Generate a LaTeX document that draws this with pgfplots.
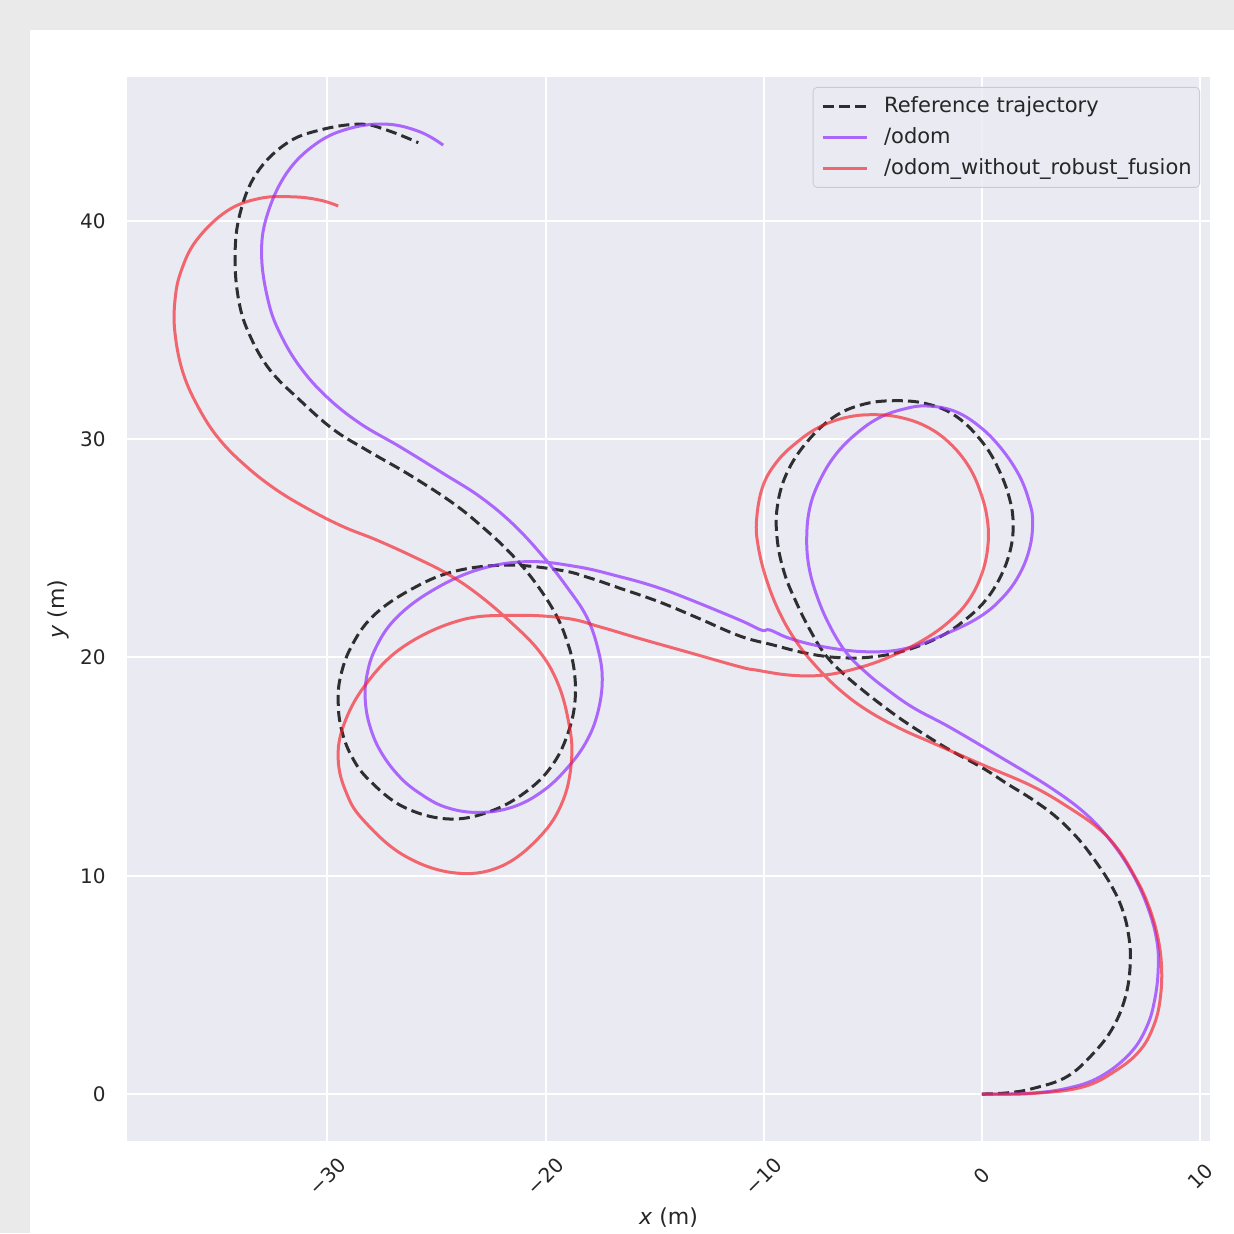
\documentclass[border=0pt]{standalone}
\usepackage{pgfplots}
\pgfplotsset{compat=1.18}
\usepackage{fontspec}
\setmainfont{DejaVu Sans}
\definecolor{bgout}{HTML}{EAEAEA}
\definecolor{axbg}{HTML}{EAEAF2}
\definecolor{txt}{HTML}{262626}
\definecolor{odomc}{RGB}{150,60,255}
\definecolor{redc}{RGB}{245,30,40}
\definecolor{legedge}{HTML}{CCCCCC}

\begin{document}
\begin{tikzpicture}
\fill[bgout] (-63.5pt,-46pt) rectangle (553.5pt,570.5pt);
\fill[white] (-48.5pt,-46pt) rectangle (553.5pt,555.5pt);
\begin{axis}[
  at={(0pt,0pt)}, anchor=south west,
  scale only axis, width=541.5pt, height=532pt,
  xmin=-39.18, xmax=10.45, ymin=-2.15, ymax=46.59,
  axis background/.style={fill=axbg},
  axis line style={draw=none},
  major tick length=0pt,
  grid=major, grid style={white, line width=1pt},
  xtick={-30,-20,-10,0,10},
  xticklabels={−30,−20,−10,0,10},
  ytick={0,10,20,30,40},
  yticklabels={0,10,20,30,40},
  xticklabel style={yshift=-17.5pt, rotate=45, anchor=center, inner sep=0pt, font=\fontsize{10}{12}\selectfont, text=txt},
  yticklabel style={anchor=east, inner sep=0pt, xshift=-10.5pt, font=\fontsize{10}{12}\selectfont, text=txt},
  xlabel={\textit{x} (m)}, ylabel={\textit{y} (m)},
  x label style={at={(axis description cs:0.5,-0.0724)}, anchor=center, font=\fontsize{11}{13}\selectfont, text=txt},
  y label style={at={(axis description cs:-0.0637,0.5)}, anchor=center, font=\fontsize{11}{13}\selectfont, text=txt},
  legend cell align=left,
  legend image code/.code={\draw[#1] (0pt,0pt) -- (22pt,0pt);},
  legend style={at={(axis description cs:1,1)}, anchor=north east, xshift=-5pt, yshift=-5pt,
    draw=legedge, fill=axbg, fill opacity=0.8, text opacity=1, rounded corners=2pt,
    inner xsep=4pt, inner ysep=4pt, font=\fontsize{10.5}{12}\selectfont, text=txt,
    row sep=4.5pt, column sep=8pt,
    nodes={inner sep=0pt, text height=8.5pt, text depth=2.5pt}},
]
\addplot[black, opacity=0.8, line width=1.5pt, dash pattern=on 5.5pt off 2.6pt, smooth, tension=0.65] coordinates {
(0,0) (1.2,0.06) (2.35,0.26) (3.88,0.79) (5.1,1.86) (6.02,3.08) (6.6,4.55) (6.8,6.1) (6.7,7.4) (6.4,8.55) (5.9,9.6) (5.25,10.6) (4.45,11.65) (3.45,12.65) (2.35,13.47) (1.13,14.23) (0.06,14.92) (-1.47,15.76) (-2.6,16.45) (-3.6,17.1) (-4.5,17.75) (-5.4,18.45) (-6.4,19.3) (-7.2,20.15) (-7.88,21.26) (-8.49,22.48) (-9.05,23.85) (-9.38,25.38) (-9.38,26.9) (-8.95,28.43) (-8.03,29.86) (-6.81,31.0) (-5.5,31.58) (-4.07,31.76) (-2.53,31.62) (-1.16,31.03) (0.06,29.81) (0.82,28.5) (1.28,27.21) (1.43,26.1) (1.3,24.92) (0.85,23.7) (0.15,22.6) (-0.8,21.7) (-1.92,20.95) (-3.45,20.34) (-4.98,20.03) (-6.51,19.99) (-8.03,20.19) (-9.56,20.57) (-11.09,20.98) (-13.0,21.8) (-14.8,22.55) (-16.59,23.17) (-18.0,23.65) (-19.34,24.0) (-21.78,24.23) (-24.23,23.93) (-26.21,23.09) (-27.9,21.9) (-28.9,20.5) (-29.4,19.1) (-29.5,17.9) (-29.35,16.7) (-28.9,15.5) (-28.1,14.4) (-26.5,13.15) (-24.4,12.6) (-22.4,13.0) (-20.7,14.0) (-19.6,15.2) (-18.95,16.6) (-18.65,18.0) (-18.7,19.5) (-19.05,20.85) (-19.6,22.1) (-20.56,23.55) (-21.63,24.8) (-22.86,25.95) (-24.23,27.06) (-26.21,28.35) (-28.2,29.5) (-29.73,30.45) (-31.26,31.79) (-32.63,33.17) (-33.55,34.75) (-34.05,36.3) (-34.23,38.36) (-34.0,40.34) (-33.24,42.18) (-31.87,43.55) (-30.34,44.16) (-28.51,44.43) (-27.28,44.16) (-25.83,43.58)
};
\addlegendentry{Reference trajectory}
\addplot[odomc, opacity=0.75, line width=1.5pt, smooth, tension=0.65] coordinates {
(0,0) (2.05,0.03) (3.88,0.26) (5.41,0.79) (6.78,1.86) (7.55,3.08) (7.93,4.4) (8.08,5.83) (8.0,7.1) (7.6,8.55) (6.95,10.0) (6.05,11.4) (4.85,12.75) (3.2,14.0) (0.82,15.45) (-1.47,16.8) (-3.15,17.7) (-4.37,18.55) (-5.3,19.3) (-6.2,20.2) (-6.95,21.4) (-7.55,22.78) (-7.93,24.16) (-8.03,25.53) (-7.88,26.9) (-7.42,28.13) (-6.7,29.3) (-5.74,30.27) (-4.67,31.0) (-3.5,31.4) (-2.53,31.52) (-1.31,31.3) (-0.2,30.65) (0.82,29.65) (1.7,28.35) (2.18,27.1) (2.32,26.25) (2.2,25.07) (1.74,23.85) (0.98,22.78) (-0.09,21.87) (-1.62,21.1) (-3.45,20.42) (-5.28,20.26) (-7.27,20.49) (-8.8,20.87) (-9.72,21.26) (-10.1,21.25) (-11.09,21.71) (-13.5,22.7) (-15.0,23.25) (-16.59,23.7) (-18.57,24.16) (-20.87,24.39) (-23.16,24.0) (-25.3,23.0) (-26.9,21.75) (-27.8,20.4) (-28.2,19.1) (-28.25,17.9) (-28.0,16.7) (-27.5,15.6) (-26.7,14.55) (-25.8,13.8) (-24.6,13.15) (-23.1,12.9) (-21.5,13.15) (-20.1,13.9) (-18.95,15.0) (-18.1,16.2) (-17.6,17.5) (-17.4,19.0) (-17.6,20.4) (-18.12,21.87) (-19.03,23.24) (-20.1,24.61) (-21.48,26.1) (-23.0,27.36) (-24.69,28.43) (-26.67,29.65) (-28.5,30.72) (-30.03,31.94) (-31.26,33.32) (-32.17,34.85) (-32.7,36.3) (-33.01,38.36) (-32.78,40.19) (-31.87,42.18) (-30.49,43.55) (-28.96,44.24) (-27.28,44.43) (-25.76,44.08) (-24.69,43.47)
};
\addlegendentry{/odom}
\addplot[redc, opacity=0.65, line width=1.5pt, smooth, tension=0.65] coordinates {
(0,0) (2.35,0.03) (4.64,0.33) (6.17,1.1) (7.24,2.0) (7.85,3.08) (8.16,4.3) (8.23,5.83) (8.02,7.36) (7.55,8.85) (6.93,10.1) (6.17,11.3) (5.3,12.2) (4.1,13.05) (2.35,14.08) (0.06,15.07) (-2.23,16.07) (-3.76,16.75) (-5.28,17.59) (-6.51,18.51) (-7.58,19.57) (-8.49,20.7) (-9.26,22.02) (-9.87,23.55) (-10.25,25.07) (-10.33,26.29) (-10.05,27.82) (-9.41,28.95) (-8.49,29.85) (-7.42,30.57) (-6.2,31.0) (-4.98,31.12) (-3.76,31.0) (-2.53,30.57) (-1.47,29.81) (-0.6,28.74) (-0.05,27.52) (0.25,26.29) (0.27,25.1) (0.0,23.85) (-0.6,22.63) (-1.5,21.65) (-2.69,20.8) (-4.22,20.03) (-5.74,19.5) (-7.27,19.19) (-8.8,19.19) (-10.33,19.42) (-11.09,19.57) (-13.5,20.25) (-15.7,20.87) (-17.5,21.4) (-19.03,21.79) (-21.4,21.93) (-23.92,21.7) (-26.52,20.49) (-28.25,18.75) (-29.25,16.9) (-29.5,15.3) (-29.12,13.78) (-28.35,12.55) (-26.52,10.95) (-24.23,10.14) (-22.09,10.41) (-20.26,11.79) (-19.19,13.47) (-18.8,15.45) (-18.96,17.13) (-19.45,18.85) (-20.3,20.3) (-21.63,21.65) (-23.16,22.94) (-24.53,23.85) (-26.06,24.62) (-27.74,25.38) (-29.27,25.99) (-30.8,26.76) (-32.32,27.67) (-33.7,28.74) (-34.92,29.96) (-35.84,31.33) (-36.6,33.0) (-36.98,34.85) (-36.98,36.37) (-36.7,37.7) (-35.99,39.12) (-34.6,40.45) (-33.09,41.03) (-31.56,41.1) (-30.34,40.95) (-29.5,40.68)
};
\addlegendentry{/odom\_without\_robust\_fusion}
\end{axis}
\pgfresetboundingbox
\useasboundingbox (-63.5pt,-46pt) rectangle (553.5pt,570.5pt);
\end{tikzpicture}
\end{document}
